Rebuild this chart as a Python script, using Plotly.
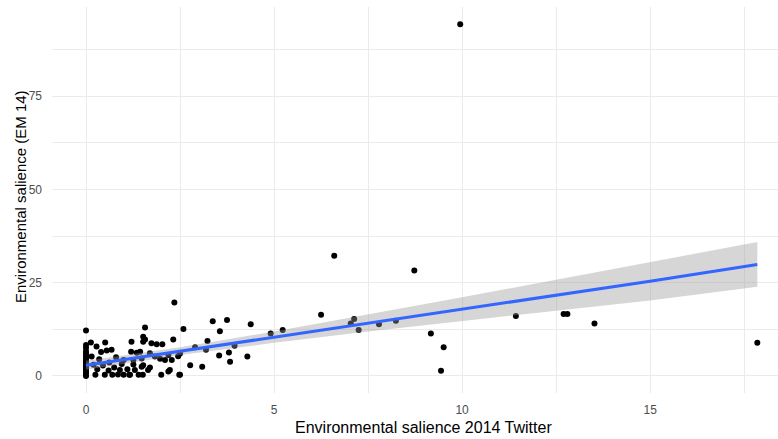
import plotly.graph_objects as go

# Scatter data: Twitter salience (x) vs EM14 salience (y)
twitter = [
    0, 0, 0, 0, 0, 0, 0, 0, 0, 0, 0, 0, 0, 0, 0, 0, 0,
    0.13, 0.28, 0.15, 0.2, 0.25, 0.3, 0.35, 0.4, 0.45, 0.5,
    0.51, 0.55, 0.6, 0.62, 0.68, 0.7, 0.75, 0.8, 0.85, 0.9, 0.95, 1.0, 1.0,
    1.1, 1.15, 1.21, 1.2, 1.26, 1.3, 1.35, 1.4, 1.44, 1.48, 1.48, 1.26, 1.17,
    1.52, 1.57, 1.52, 1.57, 1.65, 1.7, 1.7, 1.74, 1.83, 1.88, 1.97, 2.03, 2.0, 1.51, 1.52,
    2.1, 2.19, 2.23, 2.28, 2.32, 2.35, 2.48, 2.59, 2.5, 2.45, 2.19, 2.5,
    2.77, 2.9, 3.09, 3.19, 3.23, 3.37, 3.56, 3.54, 3.75, 3.8, 3.83, 3.95, 4.29, 4.38,
    4.91, 5.23, 6.25, 6.6, 7.04, 7.13, 7.25, 7.79, 8.24, 8.73,
    9.17, 9.44, 9.51, 9.95, 11.43, 12.7, 12.8, 13.52, 17.85,
]
em14 = [
    0.0, 0.4, 0.9, 1.4, 1.9, 2.4, 2.9, 3.4, 3.9, 4.4, 4.9, 5.4, 6.0, 6.6, 7.6, 8.3, 12.2,
    9.0, 7.9, 5.2, 3.0, 0.3, 1.8, 4.5, 6.4, 2.8, 0.3,
    9.0, 6.8, 1.5, 3.6, 7.0, 0.3, 2.3, 5.0, 0.4, 1.6, 3.2, 0.3, 4.3,
    1.8, 0.3, 9.2, 6.5, 4.3, 1.6, 6.2, 0.3, 6.5, 4.7, 2.5, 3.1, 0.3,
    10.5, 13.0, 9.2, 9.8, 1.6, 6.1, 2.3, 8.8, 5.2, 8.5, 4.6, 8.5, 0.3, 0.3, 2.9,
    4.3, 5.6, 1.6, 4.3, 9.8, 19.7, 0.3, 12.6, 6.0, 5.3, 1.2, 0.3,
    2.9, 7.7, 2.5, 7.0, 9.4, 14.7, 12.0, 5.5, 15.0, 6.3, 3.8, 8.1, 5.2, 13.9,
    11.4, 12.3, 16.4, 32.2, 14.1, 15.3, 12.3, 13.9, 14.8, 28.3,
    11.4, 1.4, 7.7, 94.3, 16.1, 16.6, 16.6, 14.1, 8.9,
]

# Linear fit and 95% confidence band
fit_x = [0, 2.5, 5, 7.5, 10, 12.5, 15, 17.85]
fit_y = [2.9, 6.65, 10.4, 14.15, 17.9, 21.65, 25.4, 29.9]
band_lo = [1.7, 5.6, 8.9, 11.9, 14.7, 17.5, 20.2, 23.9]
band_hi = [4.1, 7.7, 11.9, 16.4, 21.1, 25.8, 30.6, 35.9]

x_ticks = [0, 5, 10, 15]
y_ticks = [0, 25, 50, 75]

fig = go.Figure()
fig.add_trace(go.Scatter(
    x=twitter, y=em14, mode="markers",
    marker=dict(color="black", size=6, symbol="circle", line=dict(width=0)),
    showlegend=False, hoverinfo="skip"))
fig.add_trace(go.Scatter(
    x=fit_x + fit_x[::-1], y=band_hi + band_lo[::-1],
    fill="toself", fillcolor="rgba(153,153,153,0.4)", mode="lines",
    line=dict(width=0), showlegend=False, hoverinfo="skip"))
fig.add_trace(go.Scatter(
    x=fit_x, y=fit_y, mode="lines",
    line=dict(color="#3366FF", width=3), showlegend=False, hoverinfo="skip"))

grid = "#EBEBEB"
fig.update_layout(
    width=778, height=439,
    margin=dict(l=52, r=0, t=7, b=46),
    paper_bgcolor="white", plot_bgcolor="white",
    font=dict(family="Liberation Sans, Arial, sans-serif"),
    xaxis=dict(range=[-0.904, 18.40], tickvals=x_ticks, ticktext=[str(v) for v in x_ticks],
               showgrid=True, gridcolor=grid, gridwidth=1.2, zeroline=False,
               showline=False, ticks="", ticklabelstandoff=8,
               tickfont=dict(size=12, color="#4D4D4D"),
               minor=dict(tickvals=[2.5, 7.5, 12.5, 17.5], showgrid=True, gridcolor=grid, gridwidth=0.6)),
    yaxis=dict(range=[-4.56, 98.9], tickvals=y_ticks, ticktext=[str(v) for v in y_ticks],
               showgrid=True, gridcolor=grid, gridwidth=1.2, zeroline=False,
               showline=False, ticks="", ticklabelstandoff=9,
               tickfont=dict(size=12, color="#4D4D4D"),
               minor=dict(tickvals=[12.5, 37.5, 62.5, 87.5], showgrid=True, gridcolor=grid, gridwidth=0.6)),
    annotations=[
        dict(text="Environmental salience 2014 Twitter", xref="paper", yref="paper",
             x=(423 - 52) / 726, y=-(427 - 393) / 386, xanchor="center", yanchor="middle",
             showarrow=False, font=dict(size=16, color="black")),
        dict(text="Environmental salience (EM 14)", xref="paper", yref="paper",
             x=-(52 - 20) / 726, y=(393 - 197) / 386, xanchor="center", yanchor="middle",
             textangle=-90, showarrow=False, font=dict(size=15, color="black")),
    ],
)

fig.write_html("out.html")
